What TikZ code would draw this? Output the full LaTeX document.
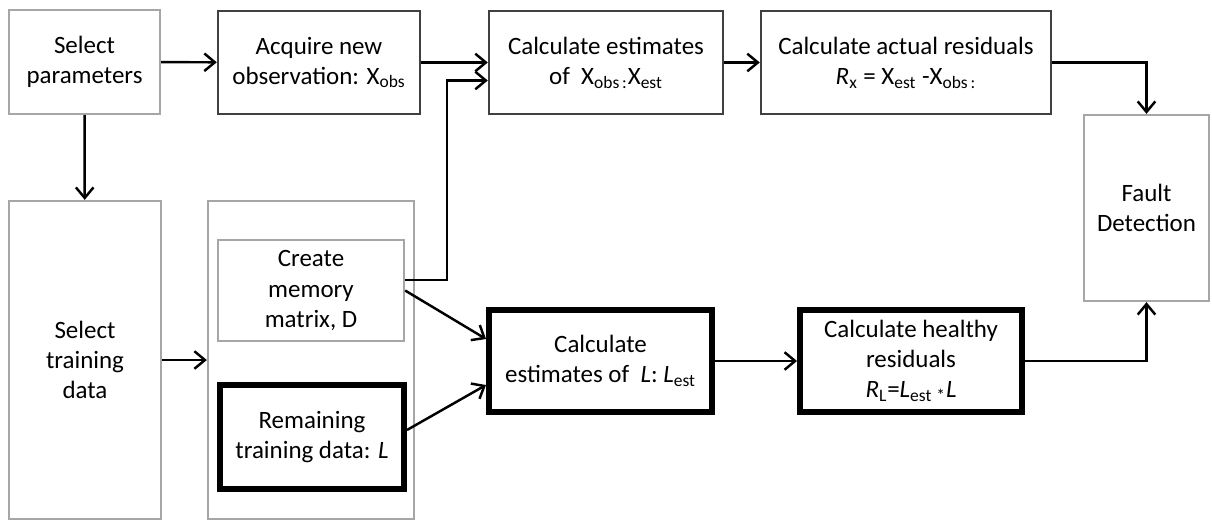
\documentclass[tikz,border=0pt]{standalone}
\usepackage{fontspec}
\setmainfont{Carlito}
\usetikzlibrary{arrows.meta, positioning, calc}

\begin{document}
\begin{tikzpicture}[
  box/.style={rectangle, align=center, inner sep=2pt,
              font=\fontsize{14.2}{17.1}\selectfont},
  graybox/.style={box, draw=black!35, line width=1.3pt},
  darkbox/.style={box, draw=black!75, line width=1.4pt},
  thickbox/.style={box, draw=black, line width=3.4pt},
  flowline/.style={line width=1.4pt, -{Straight Barb[length=6pt, width=10pt]}},
]
  % Frame
  \useasboundingbox (0,0) rectangle (24.24,-10.44);

  % Top row
  \node[graybox, minimum width=3.02cm, minimum height=2.08cm]
       at (1.69,-1.24)  (par)  {Select\\parameters};
  \node[darkbox, minimum width=4.04cm, minimum height=2.06cm]
       at (6.38,-1.25)  (acq)  {Acquire new\\observation: X\textsubscript{obs}};
  \node[darkbox, minimum width=4.68cm, minimum height=2.06cm]
       at (12.12,-1.25) (estx) {Calculate estimates\\of~~X\textsubscript{obs\,:}X\textsubscript{est}};
  \node[darkbox, minimum width=5.80cm, minimum height=2.06cm]
       at (18.12,-1.25) (resx) {Calculate actual residuals\\\textit{R}\textsubscript{x} = X\textsubscript{est} -X\textsubscript{obs\,:}};
  \node[graybox, minimum width=2.50cm, minimum height=3.72cm]
       at (22.93,-4.16) (fault) {Fault\\Detection};

  % Training side
  \node[graybox, minimum width=3.04cm, minimum height=6.36cm]
       at (1.70,-7.20)  (train) {Select\\training\\data};
  \node[graybox, minimum width=4.12cm, minimum height=6.36cm]
       at (6.22,-7.20)  (cont) {};
  \node[graybox, minimum width=3.72cm, minimum height=2.02cm]
       at (6.22,-5.81)  (mem)  {Create\\memory\\matrix, D};
  \node[thickbox, minimum width=3.68cm, minimum height=2.08cm]
       at (6.24,-8.74)  (rem)  {Remaining\\training data: \textit{L}};

  % Bottom row
  \node[thickbox, minimum width=4.46cm, minimum height=2.04cm]
       at (12.01,-7.22) (estl) {Calculate\\estimates of~~\textit{L}: \textit{L}\textsubscript{est}};
  \node[thickbox, minimum width=4.44cm, minimum height=2.04cm]
       at (18.22,-7.22) (resl) {Calculate healthy\\residuals\\\textit{R}\textsubscript{L}=\textit{L}\textsubscript{est}\,\textsubscript{*}\textit{L}};

  % Connectors
  \draw[flowline] (par) -- (acq);
  \draw[flowline] (acq) -- (estx);
  \draw[flowline] (estx) -- (resx);
  \draw[flowline] (resx.east) -| (fault.north);
  \draw[flowline] (par) -- (train);
  \draw[flowline] (train) -- (cont);
  \draw[flowline] ([yshift=0.21cm]mem.east) -- ++(0.84,0) |- ([yshift=-0.36cm]estx.west);
  \draw[flowline] (mem.east) -- ([yshift=0.44cm]estl.west);
  \draw[flowline] ([yshift=0.14cm]rem.east) -- ([yshift=-0.48cm]estl.west);
  \draw[flowline] (estl) -- (resl);
  \draw[flowline] (resl.east) -| (fault.south);
\end{tikzpicture}
\end{document}
